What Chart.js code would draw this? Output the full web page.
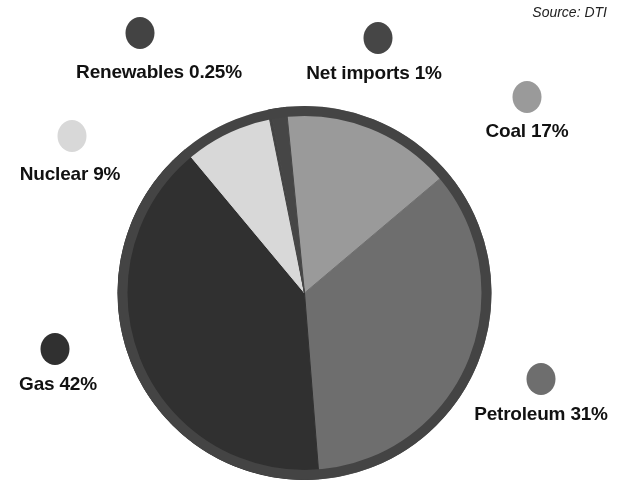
<!DOCTYPE html>
<html>
<head>
<meta charset="utf-8">
<script src="https://cdn.jsdelivr.net/npm/chart.js@4.4.1/dist/chart.umd.min.js"></script>
<style>
  html, body { margin: 0; padding: 0; background: #fff; }
  #wrap { position: relative; width: 623px; height: 481px; overflow: hidden; }
  #chart { position: absolute; left: 0; top: 0; }
  .dot { position: absolute; width: 29px; height: 32px; border-radius: 50%; transform: translate(-50%, -50%); }
  .lbl { position: absolute; transform: translate(-50%, -50%); white-space: nowrap;
         font: bold 19px "Liberation Sans", Arial, sans-serif; color: #111; letter-spacing: -0.2px; }
  #source { position: absolute; right: 16px; top: 4px;
            font: italic 14px "Liberation Sans", Arial, sans-serif; color: #222; }
</style>
</head>
<body>
<div id="wrap">
  <canvas id="chart" width="623" height="481"></canvas>
  <div id="source">Source: DTI</div>
</div>
<script>
// UK energy sources (shares as drawn in the pie, percent)
const categories = ['Coal', 'Petroleum', 'Gas', 'Nuclear', 'Renewables', 'Net imports'];
const shares = [15.4, 34.9, 40.2, 7.9, 0.25, 1.35];
const labelPercents = ['17%', '31%', '42%', '9%', '0.25%', '1%'];
const colors = ['#9a9a9a', '#6e6e6e', '#303030', '#d8d8d8', '#434343', '#464646'];

// where each callout sits (dot centre, label centre)
const callouts = [
  { dot: [527, 97],  label: [527, 131] },
  { dot: [541, 379], label: [541, 414] },
  { dot: [55, 349],  label: [58, 384] },
  { dot: [72, 136],  label: [70, 174] },
  { dot: [140, 33],  label: [159, 72] },
  { dot: [378, 38],  label: [374, 73] }
];

// Build the callout dots and labels
const wrap = document.getElementById('wrap');
categories.forEach((name, i) => {
  const dot = document.createElement('div');
  dot.className = 'dot';
  dot.style.left = callouts[i].dot[0] + 'px';
  dot.style.top = callouts[i].dot[1] + 'px';
  dot.style.background = colors[i];
  wrap.appendChild(dot);

  const lbl = document.createElement('div');
  lbl.className = 'lbl';
  lbl.style.left = callouts[i].label[0] + 'px';
  lbl.style.top = callouts[i].label[1] + 'px';
  lbl.textContent = `${name} ${labelPercents[i]}`;
  wrap.appendChild(lbl);
});

// Dark rim around the pie
const rimPlugin = {
  id: 'rim',
  afterDatasetsDraw(chart) {
    const arc = chart.getDatasetMeta(0).data[0];
    if (!arc) return;
    const { ctx } = chart;
    ctx.save();
    ctx.beginPath();
    ctx.arc(arc.x, arc.y, arc.outerRadius - 4.5, 0, Math.PI * 2);
    ctx.lineWidth = 10;
    ctx.strokeStyle = '#444444';
    ctx.stroke();
    ctx.restore();
  }
};

new Chart(document.getElementById('chart'), {
  type: 'pie',
  data: {
    labels: categories,
    datasets: [{
      data: shares,
      backgroundColor: colors,
      borderColor: colors,   // same colour as fill, hides the anti-alias seams
      borderWidth: 1,
      hoverOffset: 0
    }]
  },
  options: {
    responsive: false,
    animation: false,
    rotation: -5.6,
    layout: { padding: { top: 106, bottom: 1, left: 0, right: 14 } },
    plugins: {
      legend: { display: false },
      tooltip: { enabled: false }
    }
  },
  plugins: [rimPlugin]
});
</script>
</body>
</html>
